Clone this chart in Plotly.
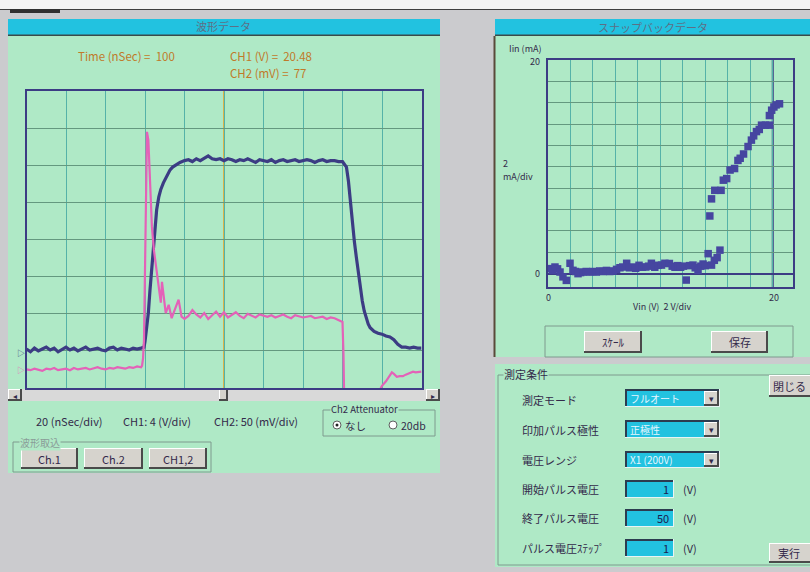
import plotly.graph_objects as go

# ---------------- data ----------------
# Oscilloscope waveform (time in nSec, CH1 in V, CH2 in mV)
t_ch1 = [0, 2, 4, 6, 8, 10, 12, 14, 16, 18, 20, 22, 24, 26, 28, 30, 32, 34, 36, 38,
         40, 42, 44, 46, 48, 50, 52, 54, 56, 58,
         59.5, 60, 61, 61.7, 62.5, 63.5, 64.2, 65, 65.9, 67, 68, 69.3, 71, 72.7, 74, 76, 77.7, 80,
         82, 84, 86, 88, 90, 92, 94, 96, 98, 100, 102, 104, 106, 108, 110, 112, 114, 116, 118, 120,
         122, 124, 126, 128, 130, 132, 134, 136, 138, 140, 142, 144, 146, 148, 150, 152, 154, 156, 158,
         160, 161, 162, 163, 164, 165, 166, 167, 168, 169, 170, 171, 172, 173, 174, 176, 178, 180,
         182, 184, 186, 188, 190, 192, 194, 196, 198, 200]
ch1_v = [0.2, -0.1, 0.3, 0.0, 0.2, 0.4, 0.1, 0.3, -0.1, 0.2, 0.4, 0.1, 0.3, 0.0, 0.2, 0.4, 0.1, 0.2, 0.3, 0.1,
         0.0, 0.3, 0.4, 0.1, 0.3, 0.2, 0.1, 0.3, 0.2, 0.3,
         0.4, 1.0, 2.5, 4.1, 6.5, 9.2, 10.9, 13.0, 15.2, 16.6, 17.4, 18.1, 18.9, 19.5, 19.8, 20.1, 20.3, 20.5,
         20.6, 20.4, 20.7, 20.5, 20.8, 21.0, 20.7, 20.6, 20.7, 20.48, 20.7, 20.6, 20.4, 20.6, 20.5, 20.7, 20.5, 20.3, 20.6, 20.5,
         20.4, 20.6, 20.3, 20.5, 20.6, 20.4, 20.5, 20.6, 20.4, 20.5, 20.6, 20.5, 20.3, 20.5, 20.6, 20.4, 20.5, 20.5, 20.4,
         20.4, 20.1, 19.8, 18.3, 16.0, 13.8, 11.8, 10.1, 8.4, 6.8, 5.4, 4.3, 3.5, 2.9, 2.5, 2.1, 1.9, 1.8,
         1.6, 1.5, 1.2, 0.7, 0.4, 0.4, 0.3, 0.4, 0.3, 0.3]

t_ch2 = [0, 2, 4, 6, 8, 10, 12, 14, 16, 18, 20, 22, 24, 26, 28, 30, 32, 34, 36, 38,
         40, 42, 44, 46, 48, 50, 52, 54, 56, 58,
         58.5, 59, 59.5, 60, 60.5, 61, 61.7, 62.5, 63.5, 64.5, 66, 67, 68, 68.6, 69.5, 70.5, 72, 73.5, 75, 77, 78.5, 80,
         82, 84, 86, 88, 90, 92, 94, 96, 98, 100, 102, 104, 106, 108, 110, 112, 114, 116, 118, 120,
         122, 124, 126, 128, 130, 132, 134, 136, 138, 140, 142, 144, 146, 148, 150, 152, 154, 156, 158,
         159, 160, 160.5, 161, 161.5, 170, 178, 179, 180, 182, 183, 184, 185, 186, 187.5, 189, 190.6,
         192, 194, 195.7, 197, 198.2, 200]
ch2_mv = [0, -1, 1, 0, -2, 1, 0, 2, -1, 0, 1, -1, 2, 0, 1, 2, 0, 1, 3, 1,
          0, 2, 1, 3, 2, 1, 3, 2, 4, 3,
          5, 15, 40, 120, 228, 320, 309, 251, 192, 161, 130, 107, 90, 118, 94, 76, 87, 69, 80, 94, 71, 68,
          72, 80, 74, 70, 76, 68, 73, 78, 71, 77, 70, 74, 77, 72, 69, 75, 73, 70, 74, 72,
          71, 73, 70, 72, 74, 71, 69, 73, 72, 70, 71, 72, 69, 70, 71, 68, 70, 69, 67,
          66, 64, 20, -60, -150, -150, -100, -27, -22, -16, -12, -7, -4, -6, -10, -9, -9,
          -7, -5, -3, -4, -4, -3]

# Snapback data (Vin in V, Iin in mA)
snap_v = [0.18, 0.4, 0.62, 0.85, 1.07, 1.33, 1.63, 1.96, 2.22, 2.45, 2.67, 2.9, 3.1, 3.4, 3.7, 4.0, 4.3, 4.6,
          4.9, 5.2, 5.5, 5.8, 6.1, 6.4, 6.65, 7.0, 7.25, 7.5, 7.8, 8.1, 8.4, 8.7, 8.95, 9.2, 9.5, 9.8,
          10.1, 10.4, 10.8, 11.05, 11.3, 11.55, 11.8, 12.05, 12.3, 12.6, 12.9, 13.1, 13.35, 13.6, 13.8,
          14.0, 14.25, 14.55, 14.8, 15.05, 15.3,
          14.4, 14.55, 14.84, 15.4, 15.6, 15.9, 16.2, 16.6, 16.9, 17.1, 17.4, 17.8, 18.1, 18.3,
          18.55, 18.8, 19.0, 19.35, 19.7, 19.7, 19.9, 20.1, 20.3, 20.6]
snap_i = [0.47, 0.3, 0.62, 0.45, 0.15, -0.3, -0.63, 0.97, 0.31, 0.2, 0.0, 0.1, 0.15, 0.2, 0.15, 0.2, 0.15, 0.25,
          0.2, 0.3, 0.2, 0.25, 0.4, 0.55, 0.62, 0.97, 0.55, 0.62, 0.5, 0.78, 0.6, 0.62, 0.7, 0.97, 0.6, 0.78,
          0.8, 0.97, 0.95, 0.7, 0.6, 0.75, 0.6, 0.7, -0.6, 0.75, 0.8, 0.55, 0.3, 0.7, 0.9,
          0.75, 1.87, 0.8, 1.25, 1.5, 2.2,
          5.4, 7.0, 7.8, 7.8, 8.75, 8.9, 9.7, 9.84, 10.6, 10.8, 11.2, 11.9, 12.5, 12.9,
          13.3, 13.5, 13.9, 13.9, 13.9, 14.8, 15.3, 15.6, 15.8, 15.9]

# ---------------- helpers ----------------
W, H = 810, 572
FONT = "Noto Sans CJK JP, DejaVu Sans, sans-serif"
GREEN = "#afe9c6"
CYAN = "#22c2e0"
GREY = "#cbcbce"
BTN = "#d6d3cd"
TXT = "#33294a"
NAVY = "#3c3c84"
PINK = "#e462b8"


def px(x):
    return x / W


def py(y):
    return 1 - y / H


shapes = []
annotations = []


def rect(x0, y0, x1, y1, fill, line="rgba(0,0,0,0)", lw=0):
    shapes.append(dict(type="rect", xref="paper", yref="paper", layer="below",
                       x0=px(x0), x1=px(x1), y0=py(y1), y1=py(y0),
                       fillcolor=fill, line=dict(width=lw, color=line)))


def hline(x0, x1, y, color, lw=1):
    shapes.append(dict(type="line", xref="paper", yref="paper", layer="below",
                       x0=px(x0), x1=px(x1), y0=py(y), y1=py(y), line=dict(width=lw, color=color)))


def vline(x, y0, y1, color, lw=1):
    shapes.append(dict(type="line", xref="paper", yref="paper", layer="below",
                       x0=px(x), x1=px(x), y0=py(y0), y1=py(y1), line=dict(width=lw, color=color)))


def text(x, y, s, size=11, color=TXT, anchor="left", bg=None):
    a = dict(xref="paper", yref="paper", x=px(x), y=py(y), text=s, showarrow=False,
             xanchor=anchor, yanchor="middle", font=dict(size=size, color=color, family=FONT),
             borderpad=0)
    if bg:
        a["bgcolor"] = bg
    annotations.append(a)


def button(x0, y0, x1, y1, label, size=11, tx=None):
    rect(x0, y0, x1, y1, BTN)
    hline(x0, x1, y0 + 0.5, "#ffffff", 1)
    vline(x0 + 0.5, y0, y1, "#ffffff", 1)
    hline(x0, x1, y1 - 1, "#4a4a4a", 2)
    vline(x1 - 1, y0, y1, "#4a4a4a", 2)
    if label:
        text(tx if tx is not None else (x0 + x1) / 2, (y0 + y1) / 2, label, size=size, anchor="center")


def groupbox(x0, y0, x1, y1, color="#7f9a8e"):
    hline(x0, x1, y0, color, 1)
    hline(x0, x1, y1, color, 1)
    vline(x0, y0, y1, color, 1)
    vline(x1, y0, y1, color, 1)


def inset(x0, y0, x1, y1, fill):
    rect(x0, y0, x1, y1, fill)
    hline(x0, x1, y0 + 1, "#2c3c50", 2)
    vline(x0 + 1, y0, y1, "#2c3c50", 2)
    hline(x0, x1, y1 - 0.5, "#e8f4f4", 1)
    vline(x1 - 0.5, y0, y1, "#e8f4f4", 1)


# ---------------- background / window chrome ----------------
rect(0, 0, 810, 9, "#f4f4f4")
hline(0, 810, 9.5, "#404040", 1)
rect(10, 9, 60, 13, "#303030")

# Left panel: waveform
rect(8, 19, 440, 35, CYAN)
hline(8, 440, 35.5, "#3a4a4a", 2)
rect(8, 36, 440, 473, GREEN)
text(223, 26, "波形データ", size=11, color="#5d6f86", anchor="center")

text(77, 56, "Time (nSec) =  100", size=11.5, color="#c07a2a")
text(229, 56, "CH1 (V) =  20.48", size=11.5, color="#c07a2a")
text(229, 73, "CH2 (mV) =  77", size=11.5, color="#c07a2a")

# scrollbar below scope
rect(8, 389, 440, 401, "#d9d9d9")
button(8, 389, 22, 401, "◂", size=8)
button(426, 389, 440, 401, "▸", size=8)
button(219, 389, 228, 401, "", size=8)

text(35, 421, "20 (nSec/div)", size=11)
text(122, 421, "CH1: 4 (V/div)", size=11)
text(213, 421, "CH2: 50 (mV/div)", size=11)

groupbox(323, 410, 435, 436)
text(330, 409, "Ch2 Attenuator", size=9.5, bg=GREEN)
shapes.append(dict(type="circle", xref="paper", yref="paper", layer="below",
                   x0=px(333), x1=px(341), y0=py(429), y1=py(421), fillcolor="#ffffff",
                   line=dict(width=1, color="#606060")))
shapes.append(dict(type="circle", xref="paper", yref="paper", layer="below",
                   x0=px(335.5), x1=px(338.5), y0=py(426.5), y1=py(423.5), fillcolor="#202020",
                   line=dict(width=0)))
text(344, 425.5, "なし", size=10.5)
shapes.append(dict(type="circle", xref="paper", yref="paper", layer="below",
                   x0=px(389), x1=px(397), y0=py(429), y1=py(421), fillcolor="#ffffff",
                   line=dict(width=1, color="#606060")))
text(400, 425.5, "20db", size=10.5)

groupbox(13, 442, 211, 472)
text(19, 442, "波形取込", size=10, color="#8a9c98", bg=GREEN)
button(21, 448, 78, 469, "Ch.1")
button(84, 448, 143, 469, "Ch.2")
button(149, 448, 207, 469, "CH1,2")

# Right top panel: snapback
rect(495, 19, 810, 35, CYAN)
hline(495, 810, 35.5, "#3a4a4a", 2)
rect(495, 36, 810, 357, GREEN)
vline(494.5, 36, 357, "#5a4a3a", 2)
text(653, 27, "スナップバックデータ", size=11, color="#5d6f86", anchor="center")

text(508, 48, "Iin (mA)", size=9)
text(541, 62, "20", size=9, anchor="right")
text(502, 163, "2", size=9)
text(502, 177, "mA/div", size=9)
text(541, 274, "0", size=9, anchor="right")
text(548, 297, "0", size=9, anchor="center")
text(774, 297, "20", size=9, anchor="center")
text(662, 306, "Vin (V)  2 V/div", size=9, anchor="center")

groupbox(545, 326, 793, 357)
button(584, 331, 642, 353, "ｽｹｰﾙ")
button(711, 331, 768, 353, "保存")

# Lower right panel: measurement conditions
rect(495, 364, 810, 567, GREEN)
groupbox(498, 375, 812, 565)
text(503, 374, "測定条件", size=11, bg=GREEN)
button(769, 375, 812, 397, "閉じる", tx=789)
button(769, 543, 812, 563, "実行", tx=789)

rows = [(400, "測定モード"), (430, "印加パルス極性"), (460, "電圧レンジ"),
        (489, "開始パルス電圧"), (518, "終了パルス電圧"), (548, "パルス電圧ｽﾃｯﾌﾟ")]
for yy, lab in rows:
    text(521, yy, lab, size=11)

combo = [(389, 407, "フルオート"), (420, 438, "正極性"), (451, 468, "X1 (200V)")]
for y0, y1, val in combo:
    inset(625, y0, 720, y1, CYAN)
    text(629, (y0 + y1) / 2, val, size=10, color="#e6f6ff")
    button(704, y0 + 2, 719, y1 - 1, "▾", size=9)

boxes = [(480, 498, "1"), (509, 527, "50"), (539, 557, "1")]
for y0, y1, val in boxes:
    inset(625, y0, 674, y1, CYAN)
    text(670, (y0 + y1) / 2, val, size=11, color="#1a2050", anchor="right")
    text(682, (y0 + y1) / 2, "(V)", size=11)

# ground markers on scope
text(21, 352, "▷", size=8, color=NAVY, anchor="center")
text(21, 369, "▷", size=8, color=PINK, anchor="center")

# ---------------- figure ----------------
fig = go.Figure()
fig.add_trace(go.Scatter(x=t_ch2, y=ch2_mv, mode="lines", xaxis="x", yaxis="y2",
                         line=dict(color=PINK, width=2.2), hoverinfo="skip", showlegend=False))
fig.add_trace(go.Scatter(x=t_ch1, y=ch1_v, mode="lines", xaxis="x", yaxis="y",
                         line=dict(color=NAVY, width=3.2), hoverinfo="skip", showlegend=False))
fig.add_trace(go.Scatter(x=snap_v, y=snap_i, mode="markers", xaxis="x3", yaxis="y3",
                         marker=dict(symbol="square", size=7.5, color="#4646a0", line=dict(width=0)),
                         hoverinfo="skip", showlegend=False))

# cursor and marker lines
shapes.append(dict(type="line", xref="x", yref="paper", layer="below", x0=100, x1=100,
                   y0=py(388), y1=py(91), line=dict(color="#e8a020", width=1.5)))
shapes.append(dict(type="line", xref="x3", yref="paper", layer="below", x0=20, x1=20,
                   y0=py(287), y1=py(60), line=dict(color=NAVY, width=2)))

grid_v = "#55b2a8"
grid_h = "#64987f"
fig.update_layout(
    width=W, height=H, autosize=False,
    margin=dict(l=0, r=0, t=0, b=0),
    paper_bgcolor=GREY, plot_bgcolor=GREEN,
    shapes=shapes, annotations=annotations,
    xaxis=dict(domain=[px(26.5), px(421.5)], range=[0, 200], dtick=20, tick0=0,
               showgrid=True, gridcolor=grid_v, gridwidth=1, zeroline=False,
               showticklabels=False, ticks="", showline=True, mirror=True,
               linecolor=NAVY, linewidth=2, fixedrange=True),
    yaxis=dict(domain=[py(388), py(91)], range=[-4, 28], dtick=4, tick0=0,
               showgrid=True, gridcolor=grid_h, gridwidth=1, zeroline=False,
               showticklabels=False, ticks="", showline=True, mirror=True,
               linecolor=NAVY, linewidth=2, fixedrange=True),
    yaxis2=dict(overlaying="y", range=[-25, 375], showgrid=False, zeroline=False,
                showticklabels=False, ticks="", showline=False, fixedrange=True),
    xaxis3=dict(domain=[px(548), px(793)], range=[0, 21.8], dtick=2, tick0=0, anchor="y3",
                showgrid=True, gridcolor=grid_v, gridwidth=1, zeroline=False,
                showticklabels=False, ticks="", showline=True, mirror=True,
                linecolor=NAVY, linewidth=2, fixedrange=True),
    yaxis3=dict(domain=[py(287), py(60)], range=[-1.25, 20], dtick=2, tick0=0, anchor="x3",
                showgrid=True, gridcolor=grid_h, gridwidth=1, zeroline=True,
                zerolinecolor=NAVY, zerolinewidth=1.5,
                showticklabels=False, ticks="", showline=True, mirror=True,
                linecolor=NAVY, linewidth=2, fixedrange=True),
)

fig.write_html("out.html", config={"displayModeBar": False},
               post_script="document.body.style.margin='0';document.body.style.overflow='hidden';")
